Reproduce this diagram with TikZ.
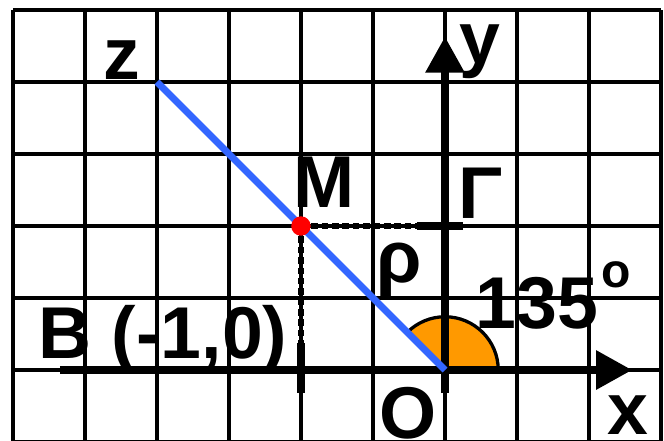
\documentclass[tikz,border=0pt]{standalone}
\usepackage{fontspec}
\setmainfont{Liberation Sans}
\usetikzlibrary{arrows.meta}
\definecolor{bluel}{RGB}{51,102,255}
\definecolor{orng}{RGB}{255,153,0}
\begin{document}
\begin{tikzpicture}[
  gridline/.style={line width=1.4pt},
  axisline/.style={line width=3pt, -{Triangle[length=0.5cm,width=0.52cm]}},
  dotl/.style={line width=2.5pt, dash pattern=on 2.6pt off 1.5pt},
  tickline/.style={line width=3pt},
  lbl/.style={font=\fontsize{29}{30}\selectfont\bfseries, inner sep=0pt, anchor=base},
]
\useasboundingbox (-6.18,-0.972) rectangle (3.042,5.139);
\draw[gridline] (-6,-1) grid (3,5);
% angle sector
\coordinate (O) at (0,0);
\filldraw[fill=orng, draw=black, line width=1.3pt] (O) -- (0.74,0) arc[start angle=0,end angle=135,radius=0.74] -- cycle;
% axes
\coordinate (xs) at (-5.35,0); \coordinate (xe) at (2.6,0);
\coordinate (ys) at (0,-0.32); \coordinate (ye) at (0,4.63);
\draw[axisline] (xs) -- (xe);
\draw[axisline] (ys) -- (ye);
% ticks
\coordinate (t1a) at (-0.39,2); \coordinate (t1b) at (0.25,2);
\coordinate (t2a) at (-2,0.375); \coordinate (t2b) at (-2,-0.32);
\draw[tickline] (t1a) -- (t1b);
\draw[tickline] (t2a) -- (t2b);
% ray
\coordinate (Z) at (-4,4); \coordinate (M) at (-2,2);
\draw[bluel, line width=2.7pt] (Z) -- (O);
% dotted projections
\coordinate (Gm) at (-0.39,2); \coordinate (Bm) at (-2,0.375);
\draw[dotl] (M) -- (Gm);
\draw[dotl] (M) -- (Bm);
\node[circle, fill=red, inner sep=0pt, minimum size=0.27cm] (Mdot) at (M) {};
% labels
\node[lbl] (lz) at (-4.49,4.04) {z};
\node[lbl] (ly) at (0.49,4.26) {y};
\node[lbl] (lM) at (-1.68,2.26) {M};
\node[lbl] (lG) at (0.49,2.11) {Γ};
\node[lbl] (lrho) at (-0.64,1.22) {ρ};
\node[lbl] (l135) at (1.28,0.58) {135};
\node[font=\fontsize{19}{20}\selectfont\bfseries, inner sep=0pt] (ldeg) at (2.375,1.32) {o};
\node[lbl, anchor=base west] (lB) at (-5.65,0.167) {B (-1,0)};
\node[lbl] (lO) at (-0.51,-0.944) {O};
\node[lbl] (lx) at (2.54,-0.90) {x};
\end{tikzpicture}
\end{document}
